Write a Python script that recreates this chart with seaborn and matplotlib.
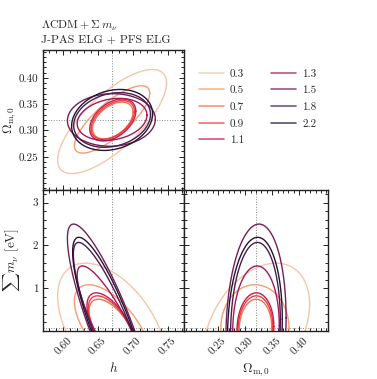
import numpy as np
import pandas as pd
import matplotlib
matplotlib.use("Agg")
import matplotlib.pyplot as plt
from matplotlib.lines import Line2D
from matplotlib.ticker import MultipleLocator, FixedLocator, FormatStrFormatter
import seaborn as sns

# ---------------- data ----------------
labels = ["0.3", "0.5", "0.7", "0.9", "1.1", "1.3", "1.5", "1.8", "2.2"]

h_fid = 0.67
om_fid = 0.32
mnu_fid = 0.06

# panel (h, Omega_m): centres, half-extents, correlation
h_c = [0.670, 0.670, 0.671, 0.671, 0.671, 0.670, 0.669, 0.670, 0.670]
om_c = [0.317, 0.321, 0.319, 0.320, 0.320, 0.321, 0.320, 0.320, 0.320]
dh = [0.078, 0.054, 0.029, 0.031, 0.033, 0.050, 0.063, 0.055, 0.058]
dom = [0.099, 0.064, 0.035, 0.037, 0.040, 0.040, 0.050, 0.052, 0.058]
rho_h_om = [0.74, 0.78, 0.45, 0.45, 0.42, 0.20, 0.03, 0.20, 0.20]

# panel (h, sum m_nu)
h_c2 = [0.670, 0.670, 0.670, 0.670, 0.670, 0.670, 0.669, 0.669, 0.669]
dh2 = [0.078, 0.054, 0.033, 0.034, 0.036, 0.050, 0.063, 0.0545, 0.0555]
dmnu = [1.525, 1.02, 0.68, 0.76, 0.83, 1.46, 2.44, 2.01, 2.13]
rho_h_mnu = [-0.49, -0.62, -0.60, -0.62, -0.63, -0.85, -0.86, -0.86, -0.84]

# panel (Omega_m, sum m_nu)
om_c3 = [0.321, 0.318, 0.319, 0.319, 0.319, 0.320, 0.320, 0.319, 0.318]
dom3 = [0.098, 0.063, 0.030, 0.032, 0.034, 0.043, 0.0556, 0.046, 0.0506]
rho_om_mnu = [0.37, 0.0, 0.05, 0.05, 0.05, 0.05, 0.10, 0.08, 0.10]

h_ticks = [0.60, 0.65, 0.70, 0.75]
om_ticks = [0.25, 0.30, 0.35, 0.40]
mnu_ticks = [1, 2, 3]

# ---------------- style ----------------
sns.set_theme(style="ticks")
plt.rcParams.update({
    "font.family": ["cmr10", "DejaVu Serif"],
    "mathtext.fontset": "cm",
    "axes.formatter.use_mathtext": True,
    "axes.linewidth": 1.0,
    "axes.edgecolor": "#222222",
    "xtick.direction": "in",
    "ytick.direction": "in",
    "xtick.color": "#222222",
    "ytick.color": "#222222",
})

palette = sns.color_palette("rocket_r", len(labels))

fig = plt.figure(figsize=(3.77, 3.79), dpi=100)
ax1 = fig.add_axes([0.114, 0.499, 0.374, 0.369])
ax2 = fig.add_axes([0.114, 0.127, 0.374, 0.372])
ax3 = fig.add_axes([0.488, 0.127, 0.382, 0.372])

t = np.linspace(0, 2 * np.pi, 400)


def ellipse(cx, cy, dx, dy, rho):
    x = cx + dx * np.cos(t)
    y = cy + dy * (rho * np.cos(t) + np.sqrt(1 - rho ** 2) * np.sin(t))
    return x, y


for i, lab in enumerate(labels):
    c = palette[i]
    x, y = ellipse(h_c[i], om_c[i], dh[i], dom[i], rho_h_om[i])
    sns.lineplot(x=x, y=y, sort=False, estimator=None, ax=ax1, color=c, lw=1.0)
    x, y = ellipse(h_c2[i], mnu_fid, dh2[i], dmnu[i], rho_h_mnu[i])
    sns.lineplot(x=x, y=y, sort=False, estimator=None, ax=ax2, color=c, lw=1.0)
    x, y = ellipse(om_c3[i], mnu_fid, dom3[i], dmnu[i], rho_om_mnu[i])
    sns.lineplot(x=x, y=y, sort=False, estimator=None, ax=ax3, color=c, lw=1.0)

fid_kw = dict(color="#888888", ls=":", lw=0.7, zorder=0)
ax1.axvline(h_fid, **fid_kw)
ax1.axhline(om_fid, **fid_kw)
ax2.axvline(h_fid, **fid_kw)
ax2.axhline(mnu_fid, **fid_kw)
ax3.axvline(om_fid, **fid_kw)
ax3.axhline(mnu_fid, **fid_kw)

hlim = (0.571, 0.773)
omlim = (0.187, 0.453)
mlim = (0.0, 3.3)

ax1.set_xlim(hlim); ax1.set_ylim(omlim)
ax2.set_xlim(hlim); ax2.set_ylim(mlim)
ax3.set_xlim(omlim); ax3.set_ylim(mlim)

for ax in (ax1, ax2, ax3):
    ax.tick_params(which="both", top=True, right=True, direction="in",
                   labelsize=8, width=0.7)
    ax.tick_params(which="major", length=3.5)
    ax.tick_params(which="minor", length=2)
    ax.set_xlabel(""); ax.set_ylabel("")

ax1.xaxis.set_major_locator(FixedLocator(h_ticks))
ax1.xaxis.set_minor_locator(MultipleLocator(0.01))
ax1.yaxis.set_major_locator(FixedLocator(om_ticks))
ax1.yaxis.set_minor_locator(MultipleLocator(0.01))
ax1.yaxis.set_major_formatter(FormatStrFormatter("%.2f"))
ax1.tick_params(labelbottom=False)

ax2.xaxis.set_major_locator(FixedLocator(h_ticks))
ax2.xaxis.set_minor_locator(MultipleLocator(0.01))
ax2.xaxis.set_major_formatter(FormatStrFormatter("%.2f"))
ax2.yaxis.set_major_locator(FixedLocator(mnu_ticks))
ax2.yaxis.set_minor_locator(MultipleLocator(0.2))
ax2.yaxis.set_major_formatter(FormatStrFormatter("%d"))

ax3.xaxis.set_major_locator(FixedLocator(om_ticks))
ax3.xaxis.set_minor_locator(MultipleLocator(0.01))
ax3.xaxis.set_major_formatter(FormatStrFormatter("%.2f"))
ax3.yaxis.set_major_locator(FixedLocator(mnu_ticks))
ax3.yaxis.set_minor_locator(MultipleLocator(0.2))
ax3.tick_params(labelleft=False)

for ax in (ax2, ax3):
    for lbl in ax.get_xticklabels():
        lbl.set_rotation(45)
        lbl.set_ha("center")

ax1.set_ylabel(r"$\Omega_{\rm m,0}$", fontsize=9.5)
ax1.yaxis.set_label_coords(-0.175, 0.5)
ax2.set_ylabel(r"$\sum m_\nu$ [eV]", fontsize=9.5)
ax2.yaxis.set_label_coords(-0.15, 0.5)
ax2.set_xlabel(r"$h$", fontsize=9.5)
ax2.xaxis.set_label_coords(0.5, -0.215)
ax3.set_xlabel(r"$\Omega_{\rm m,0}$", fontsize=9.5)
ax3.xaxis.set_label_coords(0.5, -0.215)

fig.text(0.108, 1 - 29 / 379, r"$\Lambda\mathrm{CDM} + \Sigma\, m_\nu$", fontsize=8.5,
         va="baseline", ha="left")
fig.text(0.108, 1 - 42.5 / 379, "J-PAS ELG + PFS ELG", fontsize=8.5,
         va="baseline", ha="left")

handles = [Line2D([0], [0], color=palette[i], lw=1.2, alpha=0.75) for i in range(len(labels))]
fig.legend(handles, labels, loc="upper left", bbox_to_anchor=(0.513, 0.833),
           ncol=2, frameon=False, fontsize=8, handlelength=2.25, handletextpad=0.55,
           columnspacing=2.4, labelspacing=0.62, borderpad=0)

fig.savefig("out.png", dpi=100)
